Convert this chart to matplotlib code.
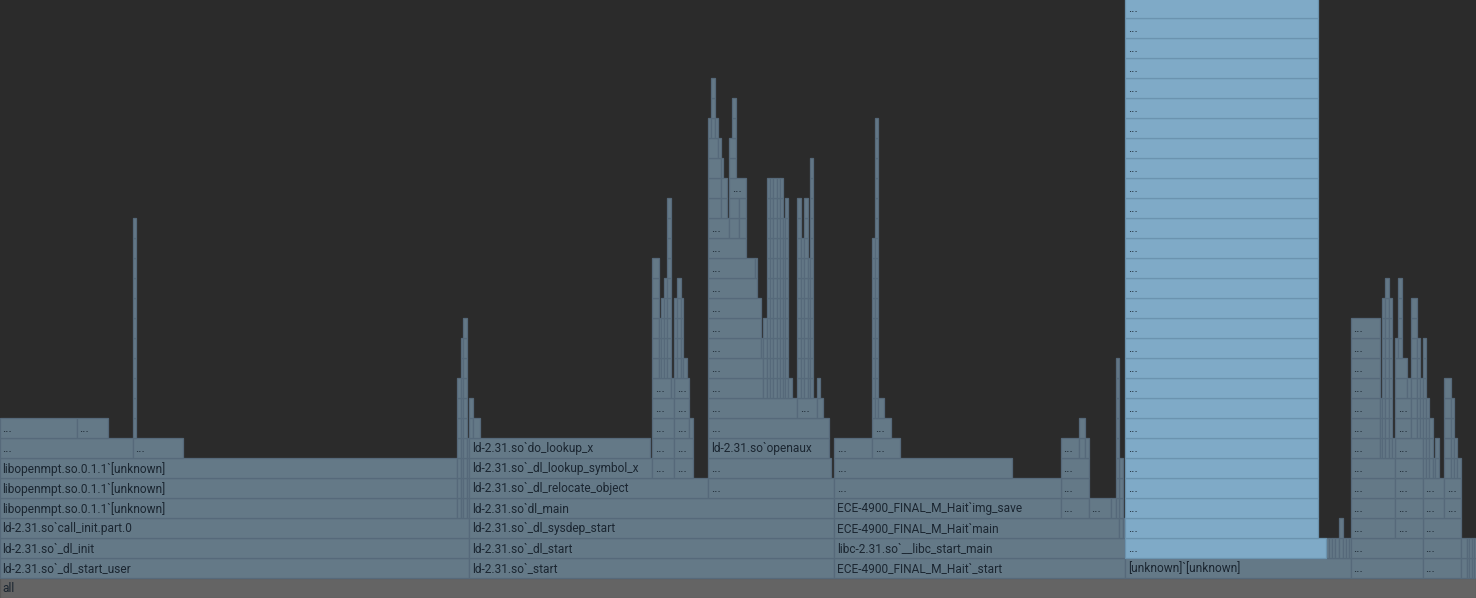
import matplotlib
matplotlib.use("Agg")
import matplotlib.pyplot as plt

# ---------------- data (x in samples, depth = stack level) ----------------
# each entry: (start, end, first_depth, last_depth, label)  label "" -> "..." if wide enough
root_frame = [(0, 1476, 0, 0, "all")]

ld_init_frames = [
    (0, 469.3, 1, 1, "ld-2.31.so`_dl_start_user"),
    (0, 469.3, 2, 2, "ld-2.31.so`_dl_init"),
    (0, 469.3, 3, 3, "ld-2.31.so`call_init.part.0"),
    (0, 457.3, 4, 6, "libopenmpt.so.0.1.1`[unknown]"),
    (0, 132.7, 7, 7, ""), (132.7, 182.7, 7, 7, ""),
    (0, 76.7, 8, 8, ""), (76.7, 107.7, 8, 8, ""),
    (132.7, 135.7, 8, 18, ""),
    (457.3, 460.7, 4, 10, ""), (460.7, 463.3, 4, 12, ""),
    (463.3, 466.7, 4, 13, ""), (466.7, 469.3, 4, 7, ""),
]

ld_start_frames = [
    (469.3, 834.3, 1, 1, "ld-2.31.so`_start"),
    (469.3, 834.3, 2, 2, "ld-2.31.so`_dl_start"),
    (469.3, 834.3, 3, 3, "ld-2.31.so`_dl_sysdep_start"),
    (469.3, 834.3, 4, 4, "ld-2.31.so`dl_main"),
    (469.3, 708.3, 5, 5, "ld-2.31.so`_dl_relocate_object"),
    (708.3, 834.3, 5, 5, ""),
    (469.3, 652.3, 6, 6, "ld-2.31.so`_dl_lookup_symbol_x"),
    (652.3, 674.3, 6, 9, ""), (674.3, 692.7, 6, 7, ""),
    (708.3, 831.0, 6, 6, ""),
    (469.3, 650.0, 7, 7, "ld-2.31.so`do_lookup_x"),
    (708.3, 829.0, 7, 7, "ld-2.31.so`openaux"),
    (469.3, 472.7, 8, 9, ""), (472.7, 480.0, 8, 8, ""),
    (674.3, 689.3, 8, 10, ""), (689.3, 692.7, 8, 8, ""),
    (652.3, 670.7, 10, 10, ""), (670.7, 674.3, 10, 10, ""),
    (652.3, 658.7, 11, 16, ""), (658.7, 661.3, 11, 13, ""),
    (661.3, 664.0, 11, 14, ""), (664.0, 667.3, 11, 15, ""),
    (667.3, 670.7, 11, 19, ""), (674.3, 676.7, 11, 14, ""),
    (676.7, 680.7, 11, 15, ""), (680.7, 683.3, 11, 14, ""),
    (683.3, 686.7, 11, 11, ""),
]

openaux_frames = [
    (708.3, 829.0, 8, 8, ""),
    (708.3, 797.3, 9, 9, ""), (797.3, 816.7, 9, 9, ""), (816.7, 822.7, 9, 9, ""),
    (708.3, 763.3, 10, 11, ""),
    (708.3, 760.7, 12, 14, ""), (760.7, 763.3, 12, 12, ""),
    (763.3, 766.7, 10, 13, ""),
    (766.7, 770.0, 10, 20, ""), (770.0, 773.3, 10, 20, ""),
    (773.3, 776.7, 10, 20, ""), (776.7, 780.0, 10, 20, ""),
    (780.0, 782.7, 10, 20, ""), (782.7, 785.0, 10, 18, ""),
    (785.0, 788.3, 10, 19, ""), (788.3, 791.7, 10, 10, ""),
    (708.3, 757.3, 15, 15, ""),
    (708.3, 755.0, 16, 16, ""), (755.0, 757.3, 16, 16, ""),
    (708.3, 746.0, 17, 17, ""),
    (708.3, 729.3, 18, 18, ""), (729.3, 739.3, 18, 19, ""), (739.3, 746.0, 18, 19, ""),
    (708.3, 720.7, 19, 21, ""), (720.7, 727.3, 19, 20, ""), (720.7, 723.3, 21, 21, ""),
    (729.3, 746.0, 20, 20, ""), (729.3, 736.0, 21, 22, ""),
    (708.3, 717.7, 22, 22, ""), (717.7, 720.7, 22, 22, ""),
    (708.3, 711.0, 23, 23, ""), (711.0, 714.7, 23, 25, ""), (714.7, 717.7, 23, 23, ""),
    (732.0, 736.0, 23, 24, ""),
    (797.3, 801.0, 10, 19, ""), (801.0, 804.3, 10, 17, ""),
    (804.3, 807.7, 10, 19, ""), (807.7, 810.0, 10, 16, ""),
    (810.0, 813.3, 10, 21, ""), (816.7, 820.0, 10, 10, ""),
]

ece_frames = [
    (834.3, 1125.3, 1, 1, "ECE-4900_FINAL_M_Hait`_start"),
    (834.3, 1125.3, 2, 2, "libc-2.31.so`__libc_start_main"),
    (834.3, 1119.3, 3, 3, "ECE-4900_FINAL_M_Hait`main"),
    (1119.3, 1122.7, 3, 6, ""), (1122.7, 1125.3, 3, 3, ""),
    (834.3, 1060.7, 4, 4, "ECE-4900_FINAL_M_Hait`img_save"),
    (1060.7, 1088.7, 4, 6, ""), (1088.7, 1110.7, 4, 4, ""),
    (1110.7, 1116.0, 4, 4, ""), (1116.0, 1119.3, 4, 11, ""),
    (834.3, 1060.7, 5, 5, ""),
    (834.3, 1011.7, 6, 6, ""),
    (834.3, 872.3, 7, 7, ""), (872.3, 899.7, 7, 7, ""),
    (1060.7, 1079.3, 7, 7, ""), (1079.3, 1085.3, 7, 8, ""), (1085.3, 1088.7, 7, 7, ""),
    (872.3, 890.7, 8, 8, ""),
    (872.3, 875.0, 9, 17, ""), (875.0, 878.3, 9, 23, ""), (878.3, 884.3, 9, 9, ""),
]

unknown_frames = [
    (1125.3, 1351.0, 1, 1, "[unknown]`[unknown]"),
    (1326.0, 1329.3, 2, 2, ""), (1329.3, 1332.3, 2, 2, ""),
    (1332.3, 1335.3, 2, 2, ""), (1335.3, 1338.7, 2, 2, ""),
    (1338.7, 1342.7, 2, 3, ""), (1342.7, 1346.0, 2, 2, ""),
    (1346.0, 1348.7, 2, 2, ""), (1348.7, 1351.0, 2, 2, ""),
]

highlight_frames = [
    (1125.3, 1326.0, 2, 2, ""),
    (1125.3, 1318.0, 3, 29, ""),
]

tail_frames = [
    (1351.0, 1422.7, 1, 2, ""), (1422.7, 1460.7, 1, 3, ""),
    (1460.7, 1466.7, 1, 2, ""), (1466.7, 1469.3, 1, 2, ""),
    (1469.3, 1472.0, 1, 2, ""), (1472.0, 1474.0, 1, 2, ""), (1474.0, 1476.0, 1, 2, ""),
    (1351.0, 1395.3, 3, 6, ""), (1395.3, 1422.7, 3, 7, ""),
    (1422.7, 1444.3, 4, 5, ""), (1444.3, 1460.7, 4, 5, ""),
    (1351.0, 1380.0, 7, 13, ""),
    (1380.0, 1382.0, 7, 9, ""), (1382.0, 1385.3, 7, 14, ""),
    (1385.3, 1388.7, 7, 15, ""), (1388.7, 1391.7, 7, 14, ""), (1391.7, 1395.3, 7, 7, ""),
    (1395.3, 1410.7, 8, 9, ""), (1395.3, 1407.3, 10, 11, ""),
    (1395.3, 1398.0, 12, 12, ""), (1398.0, 1401.7, 12, 15, ""),
    (1407.3, 1410.7, 10, 10, ""),
    (1410.7, 1416.7, 8, 14, ""), (1416.7, 1420.0, 8, 12, ""), (1420.0, 1422.7, 8, 10, ""),
    (1422.7, 1426.0, 6, 12, ""), (1426.0, 1429.3, 6, 9, ""),
    (1429.3, 1432.7, 6, 8, ""), (1432.7, 1435.0, 6, 6, ""), (1435.0, 1439.0, 6, 7, ""),
    (1444.3, 1451.0, 6, 10, ""), (1451.0, 1453.7, 6, 9, ""),
    (1453.7, 1456.7, 6, 7, ""), (1456.7, 1460.7, 6, 6, ""),
]

# ---------------- style ----------------
W_PX, H_PX, ROW_PX = 1476, 598, 20
BG = "#2b2b2b"
FILL, EDGE = "#647987", "#56697a"
HOT_FILL, HOT_EDGE = "#7faac7", "#6b93af"
ROOT_FILL, ROOT_EDGE = "#646464", "#585858"
TEXT = "#1b2631"
FONT = ["Roboto", "DejaVu Sans"]
MIN_LABEL_W = 14

fig = plt.figure(figsize=(W_PX / 100, H_PX / 100), dpi=100, facecolor=BG)
ax = fig.add_axes([0, 0, 1, 1])
ax.set_facecolor(BG)
ax.set_xlim(0, W_PX)
ax.set_ylim(0, H_PX / ROW_PX)
ax.axis("off")

# fit font size so that the reference label is ~164 px wide
probe = ax.text(0, 0, "libopenmpt.so.0.1.1`[unknown]", fontsize=10, family=FONT)
fig.canvas.draw()
pw = probe.get_window_extent().width
probe.remove()
FS = 10 * 164 / pw


def draw(frames, fill, edge):
    ys, ws, ls = [], [], []
    for x0, x1, d0, d1, lab in frames:
        for d in range(d0, d1 + 1):
            ys.append(d)
            ws.append(x1 - x0)
            ls.append(x0)
            w = x1 - x0
            txt = lab if lab else ("..." if w >= MIN_LABEL_W else "")
            if txt:
                ax.text(x0 + 2.5, d + 0.47, txt, fontsize=FS, family=FONT,
                        color=TEXT, va="center", ha="left", clip_on=True)
    ax.barh(ys, ws, left=ls, height=1, align="edge", color=fill,
            edgecolor=edge, linewidth=0.9)


draw(root_frame, ROOT_FILL, ROOT_EDGE)
for grp in (ld_init_frames, ld_start_frames, openaux_frames, ece_frames,
            unknown_frames, tail_frames):
    draw(grp, FILL, EDGE)
draw(highlight_frames, HOT_FILL, HOT_EDGE)

fig.savefig("out.png", dpi=100, facecolor=BG)
